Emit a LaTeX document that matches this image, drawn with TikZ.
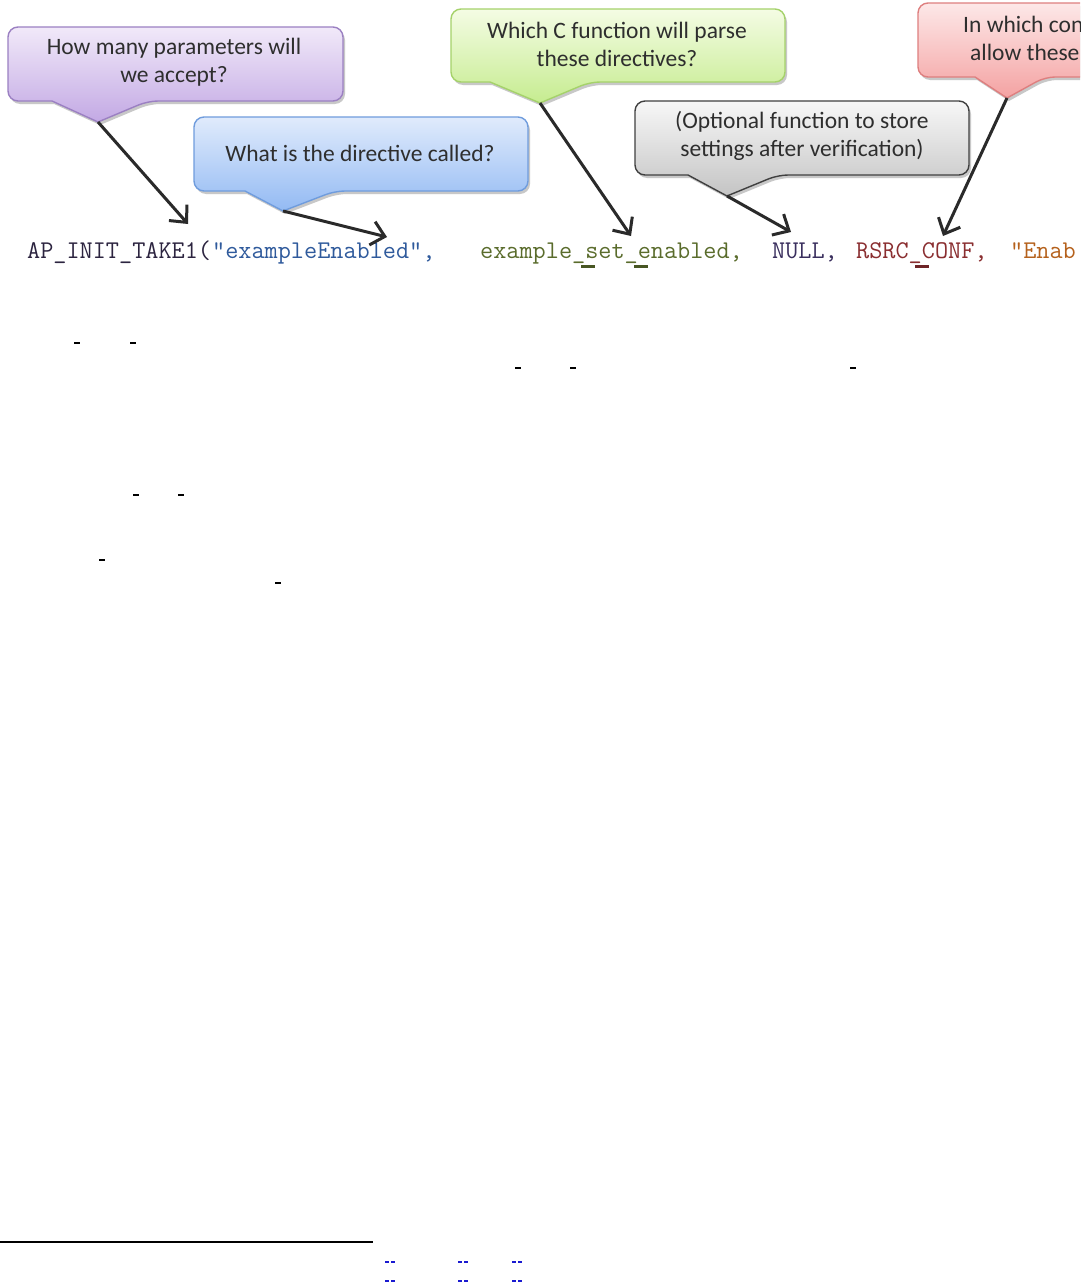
\documentclass[tikz,border=0pt]{standalone}
\usepackage{fontspec}
\setmainfont{Carlito}
\usetikzlibrary{arrows.meta,shadows}
\definecolor{txt}{HTML}{2E2E2E}
\definecolor{arr}{HTML}{2A2A2A}
\definecolor{pTop}{HTML}{F1E9F9}\definecolor{pBot}{HTML}{C3A9E4}\definecolor{pLine}{HTML}{9B80C2}
\definecolor{bTop}{HTML}{E0EBFC}\definecolor{bBot}{HTML}{93BAF3}\definecolor{bLine}{HTML}{6F9CDD}
\definecolor{gTop}{HTML}{F4FCE4}\definecolor{gBot}{HTML}{C6EC90}\definecolor{gLine}{HTML}{A5D26A}
\definecolor{yTop}{HTML}{F7F7F7}\definecolor{yBot}{HTML}{C4C4C4}\definecolor{yLine}{HTML}{404040}
\definecolor{rTop}{HTML}{FDE8E8}\definecolor{rBot}{HTML}{F4A2A2}\definecolor{rLine}{HTML}{DE7F7F}
\definecolor{cDark}{HTML}{2C2440}
\definecolor{cBlue}{HTML}{2F5A9C}
\definecolor{cOlive}{HTML}{5A6C2C}
\definecolor{cNull}{HTML}{3A2F5E}
\definecolor{cRed}{HTML}{8A2E30}
\definecolor{cOrange}{HTML}{B5611C}
\definecolor{linkblue}{HTML}{1A1AD0}
\begin{document}
\begin{tikzpicture}[x=1pt,y=-1pt,
  bubble/.style={line width=1.4pt, line join=round,
    drop shadow={shadow xshift=2pt, shadow yshift=-3pt, opacity=0.3, fill=black!70}},
  bubbletext/.style={inner sep=0pt, align=center, text=txt, font=\fontsize{23.5}{28}\selectfont},
  pointer/.style={draw=arr, line width=3pt, -{Straight Barb[length=13pt,width=24pt,line width=3pt]}},
  code/.style={anchor=base west, inner sep=0pt, font=\ttfamily\fontsize{25.5}{26}\selectfont},
  stray/.style={line width=1.6pt, black},
  strayblue/.style={line width=1.4pt, linkblue}]
\useasboundingbox (0,0) rectangle (1080,1282);
\clip (0,0) rectangle (1080,1282);
\fill[white] (0,0) rectangle (1080,1282);

% tail apexes and arrow targets
\coordinate (pApex) at (98,122);  \coordinate (pTip) at (188,224);
\coordinate (bApex) at (283,211); \coordinate (bTip) at (387,237);
\coordinate (gApex) at (540,103); \coordinate (gTip) at (631,236);
\coordinate (yApex) at (727,196); \coordinate (yTip) at (791,232);
\coordinate (rApex) at (1007,98); \coordinate (rTip) at (943,236);

% purple callout
\path[bubble, draw=pLine, top color=pTop, bottom color=pBot]
  (175,27) [rounded corners=10pt] -- (343,27) -- (343,101) -- (148,101)
  [sharp corners] -- (pApex) -- (52,101)
  [rounded corners=10pt] -- (8,101) -- (8,27) -- cycle;
\node[bubbletext] (pText) at (174,62) {How many parameters will\\we accept?};

% blue callout
\path[bubble, draw=bLine, top color=bTop, bottom color=bBot]
  (361,117) [rounded corners=10pt] -- (528,117) -- (528,191) -- (335,191)
  [sharp corners] -- (bApex) -- (245,191)
  [rounded corners=10pt] -- (194,191) -- (194,117) -- cycle;
\node[bubbletext] (bText) at (360,153) {What is the directive called?};

% green callout
\path[bubble, draw=gLine, top color=gTop, bottom color=gBot]
  (618,9) [rounded corners=10pt] -- (785,9) -- (785,82) -- (590,82)
  [sharp corners] -- (gApex) -- (490,82)
  [rounded corners=10pt] -- (451,82) -- (451,9) -- cycle;
\node[bubbletext] (gText) at (617,44) {Which C function will parse\\these directives?};

% gray callout
\path[bubble, draw=yLine, top color=yTop, bottom color=yBot]
  (802,101) [rounded corners=10pt] -- (969,101) -- (969,175) -- (778,175)
  [sharp corners] -- (yApex) -- (688,175)
  [rounded corners=10pt] -- (635,175) -- (635,101) -- cycle;
\node[bubbletext] (yText) at (802,136) {(Optional function to store\\settings after verification)};

% red callout (cut by the right edge)
\path[bubble, draw=rLine, top color=rTop, bottom color=rBot]
  (1000,3) [rounded corners=10pt] -- (1120,3) -- (1120,77) -- (1045,77)
  [sharp corners] -- (rApex) -- (975,77)
  [rounded corners=10pt] -- (918,77) -- (918,3) -- cycle;
\node[bubbletext, anchor=west] (rText1) at (963,24) {In which con};
\node[bubbletext, anchor=west] (rText2) at (970,52) {allow these};

% code line
\node[code, text=cDark] (c1) at (27,258) {AP\_INIT\_TAKE1(};
\node[code, text=cBlue] (c2) at (212,258) {"exampleEnabled",};
\node[code, text=cOlive] (c3) at (480,258) {example\_set\_enabled,};
\node[code, text=cNull] (c4) at (772,258) {NULL,};
\node[code, text=cRed] (c5) at (856,258) {RSRC\_CONF,};
\node[code, text=cOrange] (c6) at (1010,258) {"Enab};

% pointers
\draw[pointer] (pApex) -- (pTip);
\draw[pointer] (bApex) -- (bTip);
\draw[pointer] (gApex) -- (gTip);
\draw[pointer] (yApex) -- (yTip);
\draw[pointer] (rApex) -- (rTip);

% stray underscores below the code line
\draw[line width=3pt, cOlive!80!black] (581,266) -- (595,266);
\draw[line width=3pt, cOlive!80!black] (634,266) -- (648,266);
\draw[line width=3pt, cRed!80!black] (915,266) -- (929,266);

% stray dashes of the page
\draw[stray] (74,343) -- (80,343);
\draw[stray] (130,343) -- (136,343);
\draw[stray] (515,368) -- (521,368);
\draw[stray] (570,368) -- (576,368);
\draw[stray] (850,368) -- (856,368);
\draw[stray] (133,495) -- (139,495);
\draw[stray] (178,495) -- (184,495);
\draw[stray] (99,560) -- (105,560);
\draw[stray] (275,583) -- (281,583);

% footnote rule and marks
\draw[line width=1.2pt, black] (0,1242) -- (373,1242);
\foreach \yy in {1262,1281}{
  \foreach \xx in {385,458,512}{
    \draw[strayblue] (\xx,\yy) -- ++(4,0);
    \draw[strayblue] (\xx+6,\yy) -- ++(4,0);
  }
}
\end{tikzpicture}
\end{document}
